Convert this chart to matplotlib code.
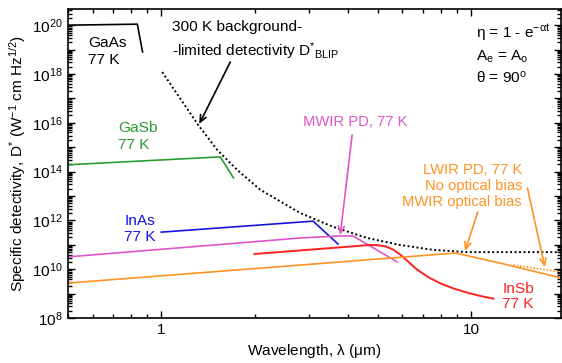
import matplotlib
matplotlib.use("Agg")
import matplotlib.pyplot as plt
from matplotlib.ticker import LogLocator, NullFormatter, FixedLocator, FixedFormatter

plt.rcParams['font.family'] = ['Liberation Sans', 'DejaVu Sans']
plt.rcParams['mathtext.fontset'] = 'custom'
plt.rcParams['mathtext.rm'] = 'Liberation Sans'
plt.rcParams['mathtext.it'] = 'Liberation Sans'
plt.rcParams['mathtext.bf'] = 'Liberation Sans:bold'

# ---- data (wavelength in um, detectivity in Jones) ----
blip_x = [1.007, 1.177, 1.316, 1.515, 1.758, 2.087, 2.475, 2.81, 3.59, 4.62, 5.9, 7.53, 9.68, 19.5]
blip_y = [1.2e18, 6.5e16, 8.1e15, 7.8e14, 1.17e14, 1.8e13, 5.1e12, 2.0e12, 5.4e11, 1.9e11, 9.8e10, 6.2e10, 5.0e10, 5.0e10]

gaas_x = [0.5, 0.837, 0.87]
gaas_y = [1.0e20, 1.1e20, 8.0e18]

gasb_x = [0.5, 1.55, 1.71]
gasb_y = [1.9e14, 4.0e14, 5.5e13]

inas_x = [1.0, 3.09, 3.72]
inas_y = [3.3e11, 9.3e11, 1.07e11]

mwir_x = [0.5, 2.81, 3.78, 4.16, 5.77]
mwir_y = [3.2e10, 1.9e11, 2.3e11, 2.3e11, 2.0e10]

insb_x = [2.0, 4.72, 5.0, 5.3, 5.6, 5.9, 6.3, 6.7, 7.3, 7.92, 8.8, 9.7, 10.7, 11.8]
insb_y = [4.2e10, 9.8e10, 9.6e10, 8.6e10, 6.4e10, 4.0e10, 1.9e10, 9.5e9, 4.6e9, 2.7e9, 1.6e9, 1.1e9, 8.0e8, 6.2e8]

lwir_x = [0.5, 2.81, 8.9, 12.4, 19.5]
lwir_y = [2.7e9, 1.48e10, 4.6e10, 1.78e10, 4.4e9]

lwir_bias_x = [13.7, 19.5]
lwir_bias_y = [1.48e10, 7.8e9]

c_green = '#2a9a35'
c_blue = '#1515e0'
c_pink = '#e055c8'
c_red = '#ff2020'
c_orange = '#ff9222'

fig = plt.figure(figsize=(5.62, 3.63), dpi=100)
ax = fig.add_axes([68/562, 1-318/363, (561-68)/562, (318-9)/363])
ax.set_xscale('log')
ax.set_yscale('log')
ax.set_xlim(0.5, 19.5)
ax.set_ylim(1e8, 4.6e20)

ax.plot(blip_x, blip_y, color='black', linestyle=(0, (1, 1.3)), lw=1.4)
ax.plot(gaas_x, gaas_y, color='black', lw=1.2)
ax.plot(gasb_x, gasb_y, color=c_green, lw=1.2)
ax.plot(inas_x, inas_y, color=c_blue, lw=1.2)
ax.plot(mwir_x, mwir_y, color=c_pink, lw=1.2)
ax.plot(insb_x, insb_y, color=c_red, lw=1.4)
ax.plot(lwir_x, lwir_y, color=c_orange, lw=1.2)
ax.plot(lwir_bias_x, lwir_bias_y, color=c_orange, lw=1.2, linestyle=(0, (1, 1)))

fs = 11.1
fs2 = 10.6
# labels
ax.text(1.085, 10**19.93, '300 K background-', fontsize=fs, va='center', ha='left')
ax.text(1.085, 10**18.94, r'-limited detectivity D$^{*}{}_{\mathrm{BLIP}}$', fontsize=fs, va='center', ha='left')
ax.text(0.581, 10**19.27, 'GaAs', fontsize=fs, va='center')
ax.text(0.581, 10**18.57, '77 K', fontsize=fs, va='center')
ax.text(0.727, 10**15.79, 'GaSb', fontsize=fs, va='center', color=c_green)
ax.text(0.727, 10**15.09, '77 K', fontsize=fs, va='center', color=c_green)
ax.text(0.76, 10**11.98, 'InAs', fontsize=fs, va='center', color=c_blue)
ax.text(0.76, 10**11.32, '77 K', fontsize=fs, va='center', color=c_blue)
ax.text(2.87, 10**16.03, 'MWIR PD, 77 K', fontsize=fs2, va='center', color=c_pink)
ax.text(14.6, 10**14.07, 'LWIR PD, 77 K', fontsize=fs2, va='center', ha='right', color=c_orange)
ax.text(14.6, 10**13.41, 'No optical bias', fontsize=fs2, va='center', ha='right', color=c_orange)
ax.text(14.6, 10**12.75, 'MWIR optical bias', fontsize=fs2, va='center', ha='right', color=c_orange)
ax.text(12.6, 10**9.19, 'InSb', fontsize=fs, va='center', color=c_red)
ax.text(12.6, 10**8.57, '77 K', fontsize=fs, va='center', color=c_red)
ax.text(10.4, 10**19.68, r'$\eta$ = 1 - e$^{-\alpha t}$', fontsize=fs, va='center')
ax.text(10.4, 10**18.7, r'A$_{\mathrm{e}}$ = A$_{\mathrm{o}}$', fontsize=fs, va='center')
ax.text(10.4, 10**17.84, r'$\theta$ = 90$^{\mathrm{o}}$', fontsize=fs, va='center')

# arrows
def arrow(tail, head, color):
    ax.annotate('', xy=head, xytext=tail,
                arrowprops=dict(arrowstyle='->,head_length=0.5,head_width=0.22',
                                color=color, lw=1.2, shrinkA=0, shrinkB=0))

arrow((1.67, 3.1e18), (1.326, 8.9e15), 'black')
arrow((4.13, 3.2e15), (3.78, 2.5e11), c_pink)
arrow((10.5, 2.2e12), (9.56, 5.6e10), c_orange)
arrow((15.2, 2.1e13), (17.3, 1.2e10), c_orange)

# ticks
ax.yaxis.set_major_locator(FixedLocator([10.0**k for k in range(8, 21)]))
ylabels = [r'$10^{%d}$' % k if k % 2 == 0 else '' for k in range(8, 21)]
ax.yaxis.set_major_formatter(FixedFormatter(ylabels))
ax.yaxis.set_minor_locator(LogLocator(base=10, subs=range(2, 10), numticks=50))
ax.yaxis.set_minor_formatter(NullFormatter())
ax.xaxis.set_major_locator(FixedLocator([1, 10]))
ax.xaxis.set_major_formatter(FixedFormatter(['1', '10']))
ax.xaxis.set_minor_locator(LogLocator(base=10, subs=range(2, 10), numticks=50))
ax.xaxis.set_minor_formatter(NullFormatter())
ax.tick_params(which='both', direction='in', top=True, right=True, labelsize=fs, width=1.0)
ax.tick_params(which='major', length=5)
ax.tick_params(which='minor', length=3)
for s in ax.spines.values():
    s.set_linewidth(1.2)

ax.set_xlabel(r'Wavelength, $\lambda$ ($\mu$m)', fontsize=fs, labelpad=4)
ax.set_ylabel(r'Specific detectivity, D$^{*}$ (W$^{-1}$ cm Hz$^{1/2}$)', fontsize=fs, labelpad=3)

fig.savefig('out.png', dpi=100)
